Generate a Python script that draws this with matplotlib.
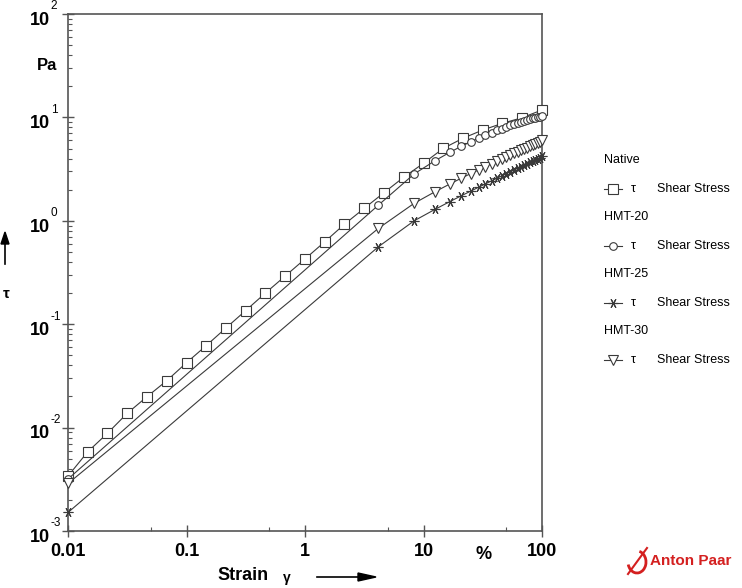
import matplotlib
matplotlib.use('Agg')
from matplotlib import pyplot as plt
from matplotlib.lines import Line2D
from matplotlib.patches import Arc
from matplotlib.ticker import NullFormatter

plt.rcParams['font.family'] = ['Liberation Sans', 'DejaVu Sans']

# strain in % - native sample on a log ramp, HMT samples on a linear ramp
strain_native = [0.01, 0.0147, 0.0215, 0.0316, 0.0464, 0.0681, 0.1, 0.147, 0.215, 0.316,
                 0.464, 0.681, 1, 1.47, 2.15, 3.16, 4.64, 6.81, 10, 14.7, 21.5, 31.6,
                 46.4, 68.1, 100]
strain_hmt = [0.01, 4.17, 8.34, 12.5, 16.7, 20.8, 25.0, 29.2, 33.3, 37.5, 41.7, 45.8, 50.0,
              54.2, 58.3, 62.5, 66.7, 70.8, 75.0, 79.2, 83.3, 87.5, 91.7, 95.8, 100]

# shear stress tau in Pa
tau_native = [0.0034, 0.00585, 0.0088, 0.01375, 0.0199, 0.0284, 0.0424, 0.0622, 0.0918,
              0.1355, 0.2004, 0.2924, 0.4275, 0.628, 0.925, 1.32, 1.87, 2.64, 3.60, 5.02,
              6.28, 7.55, 8.77, 9.94, 11.8]
tau_hmt20 = [0.00318, 1.42, 2.84, 3.81, 4.6, 5.25, 5.81, 6.30, 6.73, 7.12, 7.48, 7.80, 8.10,
             8.38, 8.63, 8.86, 9.07, 9.26, 9.44, 9.61, 9.77, 9.92, 10.06, 10.19, 10.3]
tau_hmt25 = [0.00151, 0.562, 1.0, 1.29, 1.535, 1.744, 1.935, 2.114, 2.275, 2.431, 2.58, 2.719,
             2.853, 2.983, 3.105, 3.226, 3.344, 3.455, 3.567, 3.675, 3.779, 3.882, 3.984,
             4.081, 4.2]
tau_hmt30 = [0.00288, 0.846, 1.476, 1.91, 2.27, 2.58, 2.86, 3.11, 3.35, 3.57, 3.78, 3.97, 4.16,
             4.34, 4.51, 4.67, 4.82, 4.97, 5.11, 5.25, 5.38, 5.52, 5.65, 5.80, 6.0]

sample_names = ['Native', 'HMT-20', 'HMT-25', 'HMT-30']
x_ticks = [0.01, 0.1, 1, 10, 100]
x_tick_labels = ['0.01', '0.1', '1', '10', '100']
y_exponents = [-3, -2, -1, 0, 1, 2]

W, H = 742, 588
LINE = '#3a3a3a'
AXC = '#555555'


def fx(x):
    return x / W


def fy(y):
    return 1 - y / H


fig = plt.figure(figsize=(W / 100, H / 100), dpi=100)
ax = fig.add_axes([fx(68), fy(531), (542 - 68) / W, (531 - 14) / H])

series = [
    (strain_native, tau_native, dict(marker='s', ms=7.0)),
    (strain_hmt, tau_hmt20, dict(marker='o', ms=5.5)),
    (strain_hmt, tau_hmt25, dict(marker=(6, 2, 90), ms=7.0)),
    (strain_hmt, tau_hmt30, dict(marker='v', ms=7.5)),
]
for xs, ys, st in series:
    ax.plot(xs, ys, color=LINE, lw=0.8, mfc='white', mec=LINE, mew=0.8, clip_on=False,
            zorder=3, **st)

ax.set_xscale('log')
ax.set_yscale('log')
ax.set_xlim(0.01, 100)
ax.set_ylim(1e-3, 1e2)

for s in ax.spines.values():
    s.set_color(AXC)
    s.set_linewidth(1.2)

ax.set_xticks(x_ticks, labels=x_tick_labels)
ax.set_xticks([0.05, 0.5, 5, 50], minor=True)
ax.set_yticks([10.0 ** e for e in y_exponents], labels=[''] * len(y_exponents))
ax.set_yticks([m * 10.0 ** e for e in y_exponents[:-1] for m in range(2, 10)], minor=True)
ax.yaxis.set_minor_formatter(NullFormatter())
ax.xaxis.set_minor_formatter(NullFormatter())
ax.tick_params(which='major', direction='inout', length=8, width=1, color=AXC)
ax.tick_params(which='minor', direction='in', length=3, width=0.8, color=AXC)
ax.tick_params(axis='x', which='major', labelsize=13, pad=5)
for lab in ax.get_xticklabels():
    lab.set_fontweight('bold')

# y tick labels as 10 + exponent
for e in y_exponents:
    ax.annotate('10', xy=(0, 10.0 ** e), xycoords=('axes fraction', 'data'),
                xytext=(-13, -4.5), textcoords='offset points', ha='right', va='center',
                fontsize=13, fontweight='bold')
    ax.annotate(str(e), xy=(0, 10.0 ** e), xycoords=('axes fraction', 'data'),
                xytext=(-12.5, 5.5), textcoords='offset points', ha='left', va='center',
                fontsize=8.5)

# units and axis names
fig.text(fx(47), fy(66), 'Pa', ha='center', va='center', fontsize=12, fontweight='bold')
ax.annotate('%', xy=(32, 0), xycoords=('data', 'axes fraction'), xytext=(0, -17),
            textcoords='offset points', ha='center', va='center', fontsize=13,
            fontweight='bold')
fig.text(fx(217), fy(576), 'Strain', ha='left', va='center', fontsize=13, fontweight='bold')
fig.text(fx(283), fy(578), '\u03b3', ha='left', va='center', fontsize=10, fontweight='bold')
fig.add_artist(Line2D([fx(317), fx(360)], [fy(577), fy(577)], color='black', lw=1.2))
fig.patches.append(plt.Polygon([[fx(358), fy(573)], [fx(376), fy(577)], [fx(358), fy(581)]],
                               closed=True, color='black', transform=fig.transFigure))
fig.text(fx(6), fy(294), '\u03c4', ha='center', va='center', fontsize=11, fontweight='bold')
fig.add_artist(Line2D([fx(5), fx(5)], [fy(264), fy(242)], color='black', lw=1.2))
fig.patches.append(plt.Polygon([[fx(1), fy(244)], [fx(5), fy(232)], [fx(9), fy(244)]],
                               closed=True, color='black', transform=fig.transFigure))

# legend
for i, (name, (_, _, st)) in enumerate(zip(sample_names, series)):
    y0 = 160 + 57 * i
    fig.text(fx(604), fy(y0), name, ha='left', va='center', fontsize=9)
    y1 = y0 + 29
    fig.add_artist(Line2D([fx(604), fx(622)], [fy(y1), fy(y1)], color=LINE, lw=0.8))
    fig.add_artist(Line2D([fx(613)], [fy(y1)], color=LINE, mfc='white', mec=LINE, mew=0.8,
                          **st))
    fig.text(fx(633), fy(y1), '\u03c4', ha='center', va='center', fontsize=9)
    fig.text(fx(657), fy(y1), 'Shear Stress', ha='left', va='center', fontsize=9)

# Anton Paar logo
red = '#d42020'
fig.text(fx(650), fy(561), 'Anton Paar', ha='left', va='center', fontsize=11,
         fontweight='bold', color=red)
fig.patches.append(Arc((fx(637), fy(562)), 18 / W, 22 / H, theta1=200, theta2=80,
                       color=red, lw=2, transform=fig.transFigure))
fig.add_artist(Line2D([fx(628), fx(647)], [fy(574), fy(548)], color=red, lw=1.5))

fig.savefig('out.png', dpi=100)
